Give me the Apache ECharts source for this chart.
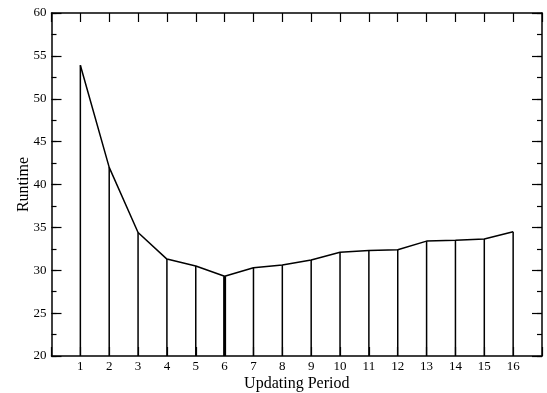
<!DOCTYPE html>
<html>
<head>
<meta charset="utf-8">
<script src="https://cdn.jsdelivr.net/npm/echarts@6/dist/echarts.min.js"></script>
<style>
  html, body { margin: 0; padding: 0; background: #fff; }
  #main { width: 547px; height: 393px; }
</style>
</head>
<body>
<div id="main"></div>
<script>
// data
var periods = [1, 2, 3, 4, 5, 6, 7, 8, 9, 10, 11, 12, 13, 14, 15, 16];
var runtime = [53.9, 42.0, 34.4, 31.3, 30.5, 29.3, 30.3, 30.6, 31.2, 32.1, 32.3, 32.4, 33.4, 33.5, 33.65, 34.5];
var xName = 'Updating Period';
var yName = 'Runtime';

var pts = [];
for (var i = 0; i < periods.length; i++) {
  pts.push([periods[i], runtime[i]]);
}

var font = 'Liberation Serif';
var myChart = echarts.init(document.getElementById('main'));

// y axis helper: major ticks (with frame line) or minor ticks only
function yAx(pos, major, showLabel) {
  var a = {
    type: 'value', min: 20, max: 60, interval: major ? 5 : 2.5, position: pos,
    axisLine: { show: major, onZero: false, lineStyle: { color: '#000', width: 1.5 } },
    axisTick: { show: true, inside: true, length: major ? 10 : 5, lineStyle: { color: '#000', width: 1.2 } },
    axisLabel: { show: showLabel, fontFamily: font, fontSize: 13, color: '#000', margin: 5 },
    splitLine: { show: false }
  };
  if (showLabel) {
    a.name = yName;
    a.nameLocation = 'middle';
    a.nameGap = 20;
    a.nameMoveOverlap = false;
    a.nameTextStyle = { fontFamily: font, fontSize: 16, color: '#000' };
  }
  return a;
}

var option = {
  animation: false,
  grid: { left: 51.5, right: 5, top: 13, bottom: 37, containLabel: false, outerBoundsMode: 'none' },
  xAxis: [
    {
      type: 'value', min: 0, max: 17, interval: 1,
      name: xName, nameLocation: 'middle', nameGap: 20, nameMoveOverlap: false,
      nameTextStyle: { fontFamily: font, fontSize: 16, color: '#000' },
      axisLine: { onZero: false, lineStyle: { color: '#000', width: 1.5 } },
      axisTick: { inside: true, length: 9, lineStyle: { color: '#000', width: 1.2 } },
      axisLabel: {
        fontFamily: font, fontSize: 13, color: '#000', margin: 4,
        formatter: function (v) { return (v >= 1 && v <= 16) ? String(v) : ''; }
      },
      splitLine: { show: false }
    },
    {
      type: 'value', min: 0, max: 17, interval: 1, position: 'top',
      axisLine: { onZero: false, lineStyle: { color: '#000', width: 1.5 } },
      axisTick: { inside: true, length: 9, lineStyle: { color: '#000', width: 1.2 } },
      axisLabel: { show: false },
      splitLine: { show: false }
    }
  ],
  yAxis: [
    yAx('left', true, true),
    yAx('right', true, false),
    yAx('left', false, false),
    yAx('right', false, false)
  ],
  series: [
    {
      // drop lines from each point down to the x axis
      type: 'custom',
      xAxisIndex: 0, yAxisIndex: 0,
      data: pts,
      renderItem: function (params, api) {
        var top = api.coord([api.value(0), api.value(1)]);
        var bot = api.coord([api.value(0), 20]);
        return {
          type: 'line',
          shape: { x1: top[0], y1: top[1], x2: bot[0], y2: bot[1] },
          style: { stroke: '#000', lineWidth: api.value(0) === 6 ? 3 : 1.5 }
        };
      },
      z: 2
    },
    {
      type: 'line',
      xAxisIndex: 0, yAxisIndex: 0,
      data: pts,
      symbol: 'none',
      lineStyle: { color: '#000', width: 1.5 },
      z: 3
    }
  ]
};
myChart.setOption(option);
window.addEventListener('resize', function () {
  myChart.resize();
});
</script>
</body>
</html>
